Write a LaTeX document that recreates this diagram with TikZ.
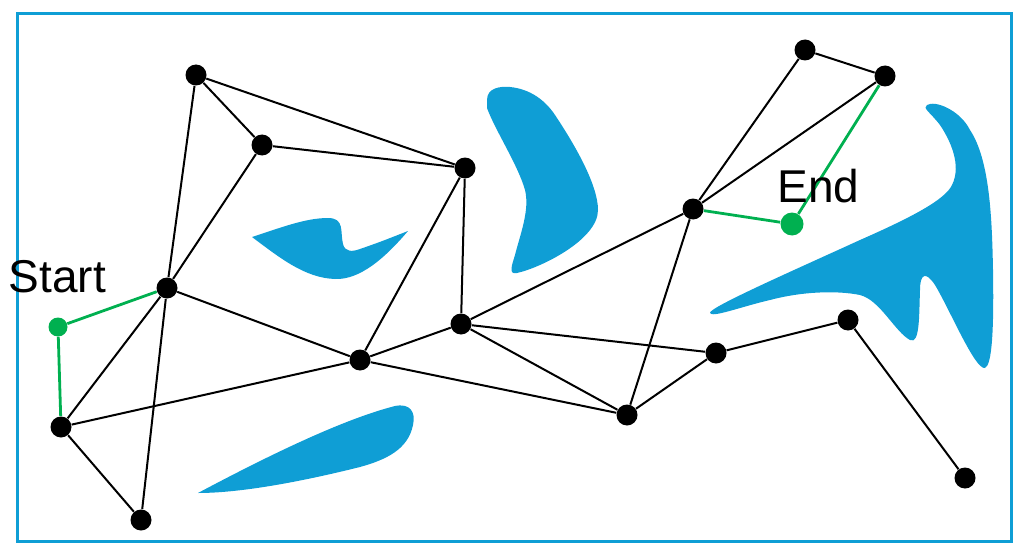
\documentclass[tikz,border=0pt]{standalone}
\usepackage{fontspec}
\setmainfont{Liberation Sans}
\definecolor{obst}{HTML}{0F9ED5}
\definecolor{path}{HTML}{00B050}

\tikzset{
  vertex/.style={circle, fill=black, inner sep=0pt, minimum size=10.5pt},
  goal/.style={circle, fill=path, inner sep=0pt},
  edge/.style={line width=1pt, black},
  route/.style={line width=1.4pt, path},
  label/.style={inner sep=0pt, anchor=base, font=\fontsize{23}{27}\selectfont}
}

\begin{document}
\begin{tikzpicture}[x=0.5pt, y=-0.5pt]

  \useasboundingbox (0,0) rectangle (1017,551);
  \draw[obst, line width=1.5pt] (17,14) rectangle (1011,541);

  % obstacles
  \fill[obst] (252,237) .. controls (280,228) and (305,218) .. (328,218)
    .. controls (345,218) and (340,232) .. (343,244)
    .. controls (345,252) and (352,252) .. (360,249)
    .. controls (380,242) .. (408,231)
    .. controls (385,258) and (360,280) .. (335,279)
    .. controls (305,278) and (280,258) .. (252,237) -- cycle;

  \fill[obst] (487,100) .. controls (487,88) and (500,86) .. (510,87)
    .. controls (530,89) and (545,100) .. (555,115)
    .. controls (575,145) and (598,185) .. (598,210)
    .. controls (598,240) and (540,268) .. (517,273)
    .. controls (508,275) and (512,265) .. (515,255)
    .. controls (520,235) and (530,210) .. (525,190)
    .. controls (518,165) and (495,130) .. (487,108) -- cycle;

  \fill[obst] (198,493) .. controls (260,460) and (340,420) .. (395,406)
    .. controls (410,403) and (416,412) .. (413,425)
    .. controls (408,450) and (385,460) .. (360,467)
    .. controls (300,482) and (240,493) .. (198,493) -- cycle;

  \fill[obst] (927,105) .. controls (935,100) and (960,110) .. (970,130)
    .. controls (990,160) and (992,220) .. (993,270)
    .. controls (994,330) and (992,365) .. (985,368)
    .. controls (975,370) and (950,310) .. (935,285)
    .. controls (925,270) and (920,275) .. (920,290)
    .. controls (919,315) and (920,345) .. (910,340)
    .. controls (895,332) and (880,300) .. (860,295)
    .. controls (835,290) and (800,292) .. (770,300)
    .. controls (740,307) and (712,318) .. (710,313)
    .. controls (708,308) and (790,272) .. (860,240)
    .. controls (910,218) and (945,200) .. (952,185)
    .. controls (962,165) and (950,140) .. (940,125)
    .. controls (930,112) and (922,108) .. (927,105) -- cycle;

  \node[vertex] (p1) at (196,75) {};
  \node[vertex] (p2) at (262,145) {};
  \node[vertex] (p3) at (465,168) {};
  \node[vertex] (p4) at (167,288) {};
  \node[vertex] (p5) at (61,427) {};
  \node[vertex] (p6) at (141,520) {};
  \node[vertex] (p7) at (360,360) {};
  \node[vertex] (p8) at (461,324) {};
  \node[vertex] (p9) at (693,209) {};
  \node[vertex] (p10) at (805,50) {};
  \node[vertex] (p11) at (885,76) {};
  \node[vertex] (p12) at (716,353) {};
  \node[vertex] (p13) at (848,320) {};
  \node[vertex] (p14) at (627,415) {};
  \node[vertex] (p15) at (965,478) {};

  \node[goal, minimum size=9.5pt] (start) at (58,327) {};
  \node[goal, minimum size=11.5pt] (end) at (792,224) {};

  \draw[edge] (p1) -- (p2) (p1) -- (p3) (p1) -- (p4);
  \draw[edge] (p2) -- (p3) (p2) -- (p4);
  \draw[edge] (p3) -- (p7) (p3) -- (p8);
  \draw[edge] (p4) -- (p7) (p4) -- (p5) (p4) -- (p6);
  \draw[edge] (p5) -- (p7) (p5) -- (p6);
  \draw[edge] (p7) -- (p8) (p7) -- (p14);
  \draw[edge] (p8) -- (p9) (p8) -- (p12) (p8) -- (p14);
  \draw[edge] (p9) -- (p14) (p9) -- (p10) (p9) -- (p11);
  \draw[edge] (p10) -- (p11);
  \draw[edge] (p12) -- (p14) (p12) -- (p13);
  \draw[edge] (p13) -- (p15);

  \draw[route] (start) -- (p4) (start) -- (p5);
  \draw[route] (p9) -- (end) (end) -- (p11);

  \node[label] (startl) at (57.5,292) {Start};
  \node[label] (endl) at (818.5,202) {End};

\end{tikzpicture}
\end{document}
